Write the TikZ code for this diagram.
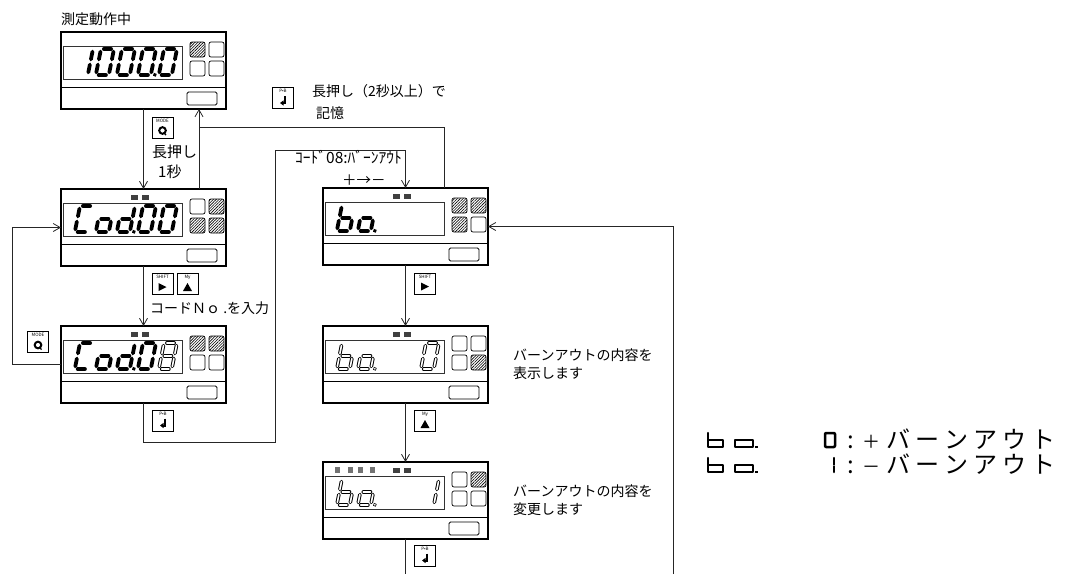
\documentclass[tikz,border=0pt]{standalone}
\usepackage{fontspec}
\setmainfont{Noto Sans CJK JP}
\usetikzlibrary{arrows.meta,patterns.meta,calc}
\tikzset{
 meterbox/.style={draw, line width=1.1pt, minimum width=165pt, minimum height=77pt, inner sep=0pt, outer sep=0pt},
 winbox/.style={draw, line width=0.8pt, black!80},
 lamp/.style={draw, line width=0.7pt, rounded corners=2pt},
 hat/.style={pattern={Lines[angle=45,distance=2pt,line width=0.6pt]}},
 emp/.style={},
 btn/.style={draw, line width=0.8pt, rounded corners=1.5pt},
 indc/.style={fill=black!75},
 indl/.style={fill=black!55},
 segon/.style={line width=3.8pt, line cap=round, black},
 segout/.style={line width=3.6pt, line cap=round, black},
 segin/.style={line width=1.6pt, line cap=round, white},
 segr/.style={line width=2.5pt, line cap=round, line join=round, black},
 conn/.style={line width=0.8pt, black!85},
 arr/.style={conn, -{Straight Barb[length=7pt,width=8pt]}},
 keybox/.style={draw, line width=0.9pt, minimum size=21pt, inner sep=0pt, fill=white},
 keylab/.style={font=\fontsize{4.5}{5}\selectfont, inner sep=0pt},
 txt/.style={font=\fontsize{14}{16}\selectfont, inner sep=0pt, anchor=west},
 big/.style={txt, font=\fontsize{24}{26}\selectfont, text height=19pt, text depth=3pt},
}
\newcommand\dig[7]{%
 \begin{scope}[shift={(#1,#2)},x=#3pt,y=-#4pt,xslant=#5]
  \coordinate (Sa1) at (0.22,0); \coordinate (Sa2) at (0.78,0);
  \coordinate (Sb1) at (1,0.2); \coordinate (Sb2) at (1,0.8);
  \coordinate (Sc1) at (1,1.2); \coordinate (Sc2) at (1,1.8);
  \coordinate (Sd1) at (0.22,2); \coordinate (Sd2) at (0.78,2);
  \coordinate (Se1) at (0,1.2); \coordinate (Se2) at (0,1.8);
  \coordinate (Sf1) at (0,0.2); \coordinate (Sf2) at (0,0.8);
  \coordinate (Sg1) at (0.22,1); \coordinate (Sg2) at (0.78,1);
  \coordinate (Sp1) at (1.3,1.97); \coordinate (Sp2) at (1.32,2);
 \end{scope}
 \foreach \s in {#6}{\draw[#7] (S\s1) -- (S\s2);}%
}
\newcommand\dcell[3]{\dig{#1}{17}{13}{13}{0.2}{#2}{#3}}
\newcommand\meter[7]{%
 \node[meterbox] (#1) at (#2+82.5,#3+38.5) {};
 \begin{scope}[shift={(#1.north west)}]
  \draw[line width=1pt] (0,55) -- (165,55);
  \draw[winbox] (2,14) rectangle (121,47);
  \draw[lamp,#4] (129,10) rectangle (144,25);
  \draw[lamp,#5] (148,10) rectangle (163,25);
  \draw[lamp,#6] (129,29) rectangle (144,44);
  \draw[lamp,#7] (148,29) rectangle (163,44);
  \draw[btn] (126,60) rectangle (156,73);
 \end{scope}}
\newcommand\keyicon[5]{%
 \node[keybox] (#1) at (#2,#3) {};
 \node[keylab] (#1l) at ($(#1.north)+(0,4)$) {#4};
 \begin{scope}[shift={(#1.center)}] #5 \end{scope}}
\newcommand\symshift{\fill (-4,-1) -- (-4,7) -- (4,3) -- cycle;}
\newcommand\symup{\fill (-4.5,7) -- (4.5,7) -- (0,-1) -- cycle;}
\newcommand\symmode{\draw[line width=2pt] (0,3) circle (3.3); \draw[line width=1.4pt] (1,5) -- (3.5,7.5);}
\newcommand\sympb{\draw[line width=2pt,-{Triangle[length=3.5pt,width=5pt]}] (2,-2) -- (2,5) -- (-3,5);}
% legend glyphs (upright LCD letters), #1 x, #2 y of top
\newcommand\lgbo[2]{%
 \draw[segr] (#1,#2) -- (#1,#2+14) -- (#1+15,#2+14) -- (#1+15,#2+7) -- (#1+1.5,#2+7);
 \draw[segr] (#1+27,#2+7) rectangle (#1+45,#2+14);
 \fill (#1+47,#2+12.7) rectangle ++(2.6,2.6);}
\begin{document}
\begin{tikzpicture}[x=1pt,y=-1pt]
\useasboundingbox (0,0) rectangle (1069,574);
% meters
\meter{m1}{61}{32}{hat}{emp}{emp}{emp}
\meter{m2}{61}{189}{emp}{hat}{hat}{hat}
\meter{m3}{61}{326}{hat}{hat}{emp}{emp}
\meter{m4}{323}{188}{hat}{hat}{hat}{emp}
\meter{m5}{323}{326}{emp}{emp}{emp}{hat}
\meter{m6}{323}{462}{emp}{hat}{emp}{emp}
% indicators
\foreach \m in {m2,m3,m4,m5,m6}{
 \begin{scope}[shift={(\m.north west)}]
  \fill[indc] (70,6) rectangle ++(7,5);
  \fill[indc] (81,6) rectangle ++(7,5);
 \end{scope}}
\begin{scope}[shift={(m6.north west)}]
 \foreach \ix in {12,25,35,47}{\fill[indl] (\ix,5) rectangle ++(5,6);}
\end{scope}
% digits
\begin{scope}[shift={(m1.north west)}]
 \dcell{19}{b,c}{segon}
 \dcell{40}{a,b,c,d,e,f}{segon}
 \dcell{61}{a,b,c,d,e,f}{segon}
 \dcell{82}{a,b,c,d,e,f,p}{segon}
 \dcell{103}{a,b,c,d,e,f}{segon}
\end{scope}
\begin{scope}[shift={(m2.north west)}]
 \dcell{19}{a,d,e,f}{segon}
 \dcell{40}{c,d,e,g}{segon}
 \dcell{61}{b,c,d,e,g,p}{segon}
 \dcell{82}{a,b,c,d,e,f}{segon}
 \dcell{103}{a,b,c,d,e,f}{segon}
\end{scope}
\begin{scope}[shift={(m3.north west)}]
 \dcell{19}{a,d,e,f}{segon}
 \dcell{40}{c,d,e,g}{segon}
 \dcell{61}{b,c,d,e,g,p}{segon}
 \dcell{82}{a,b,c,d,e,f}{segon}
 \dcell{103}{a,b,c,d,e,f,g}{segout}
 \dcell{103}{a,b,c,d,e,f,g}{segin}
\end{scope}
\begin{scope}[shift={(m4.north west)}]
 \dcell{19}{c,d,e,f,g}{segon}
 \dcell{40}{c,d,e,g,p}{segon}
\end{scope}
\begin{scope}[shift={(m5.north west)}]
 \dcell{19}{c,d,e,f,g}{segout}
 \dcell{40}{c,d,e,g,p}{segout}
 \dcell{103}{a,b,c,d,e,f}{segout}
 \dcell{19}{c,d,e,f,g}{segin}
 \dcell{40}{c,d,e,g,p}{segin}
 \dcell{103}{a,b,c,d,e,f}{segin}
\end{scope}
\begin{scope}[shift={(m6.north west)}]
 \dcell{19}{c,d,e,f,g}{segout}
 \dcell{40}{c,d,e,g,p}{segout}
 \dcell{103}{b,c}{segout}
 \dcell{19}{c,d,e,f,g}{segin}
 \dcell{40}{c,d,e,g,p}{segin}
 \dcell{103}{b,c}{segin}
\end{scope}
% key icons
\keyicon{k1}{162.5}{127.5}{MODE}{\symmode}
\keyicon{k2}{162.5}{284}{SHIFT}{\symshift}
\keyicon{k3}{187.5}{284}{My}{\symup}
\keyicon{k4}{38}{342}{MODE}{\symmode}
\keyicon{k5}{163}{420.5}{P•B}{\sympb}
\keyicon{k6}{283}{98}{P•B}{\sympb}
\keyicon{k7}{425}{283.5}{SHIFT}{\symshift}
\keyicon{k8}{425}{421}{My}{\symup}
\keyicon{k9}{425}{555.5}{P•B}{\sympb}
% connectors
\coordinate (j1) at (199,127);
\coordinate (j2) at (444,127);
\coordinate (l1) at (12,300);
\coordinate (p1) at (275,442);
\coordinate (p2) at (275,150);
\coordinate (e1) at (405.5,574);
\coordinate (r1) at (673,574);
\draw[arr] (m1.south) -- (m2.north);
\draw[arr] (m2.north -| j1) -- (m1.south -| j1);
\draw[conn] (m4.north -| j2) -- (j2) -- (j1);
\draw[arr] (m2.south) -- (m3.north);
\draw[arr] (m3.west) -- (m3.west -| l1) -- (m2.west -| l1) -- (m2.west);
\draw[arr] (m3.south) |- (p1) -- (p2) -| (m4.north);
\draw[arr] (m4.south) -- (m5.north);
\draw[arr] (m5.south) -- (m6.north);
\draw[conn] (m6.south) -- (e1);
\draw[arr] (r1) |- (m4.east);
% texts
\node[txt] (t1) at (61,19) {測定動作中};
\node[txt,font=\fontsize{15}{17}\selectfont] (t2) at (152,152) {長押し};
\node[txt,font=\fontsize{15}{17}\selectfont] (t3) at (158,172) {1秒};
\node[txt] (t4) at (150,308) {コードＮｏ .を入力};
\node[txt] (t5) at (312,91) {長押し（2秒以上）で};
\node[txt] (t6) at (316,113) {記憶};
\node[txt,font=\fontsize{15.5}{17}\selectfont] (t7) at (295,157) {ｺｰﾄﾞ08:ﾊﾞｰﾝｱｳﾄ};
\node[txt,font=\fontsize{14.5}{16}\selectfont] (t8) at (342,180) {＋→－};
\node[txt] (t9) at (513,355) {バーンアウトの内容を};
\node[txt] (t10) at (513,373) {表示します};
\node[txt] (t11) at (513,491) {バーンアウトの内容を};
\node[txt] (t12) at (513,509) {変更します};
% right legend
\lgbo{708}{433}
\lgbo{708}{458}
\draw[segr,rounded corners=1pt] (825,433) rectangle (835,447);
\draw[segr] (834,458) -- (834,464.5) (834,466.5) -- (834,472);
\node[big] (c1) at (847,440) {:};
\node[big,font=\fontsize{18}{20}\selectfont] (s1) at (862,440) {＋};
\node[big] (w1) at (886,440) {バ\kern5pt ー\kern5pt ン\kern5pt ア\kern5pt ウ\kern5pt ト};
\node[big] (c2) at (847,465) {:};
\node[big,font=\fontsize{18}{20}\selectfont] (s2) at (862,465) {－};
\node[big] (w2) at (886,465) {バ\kern5pt ー\kern5pt ン\kern5pt ア\kern5pt ウ\kern5pt ト};
\end{tikzpicture}
\end{document}
